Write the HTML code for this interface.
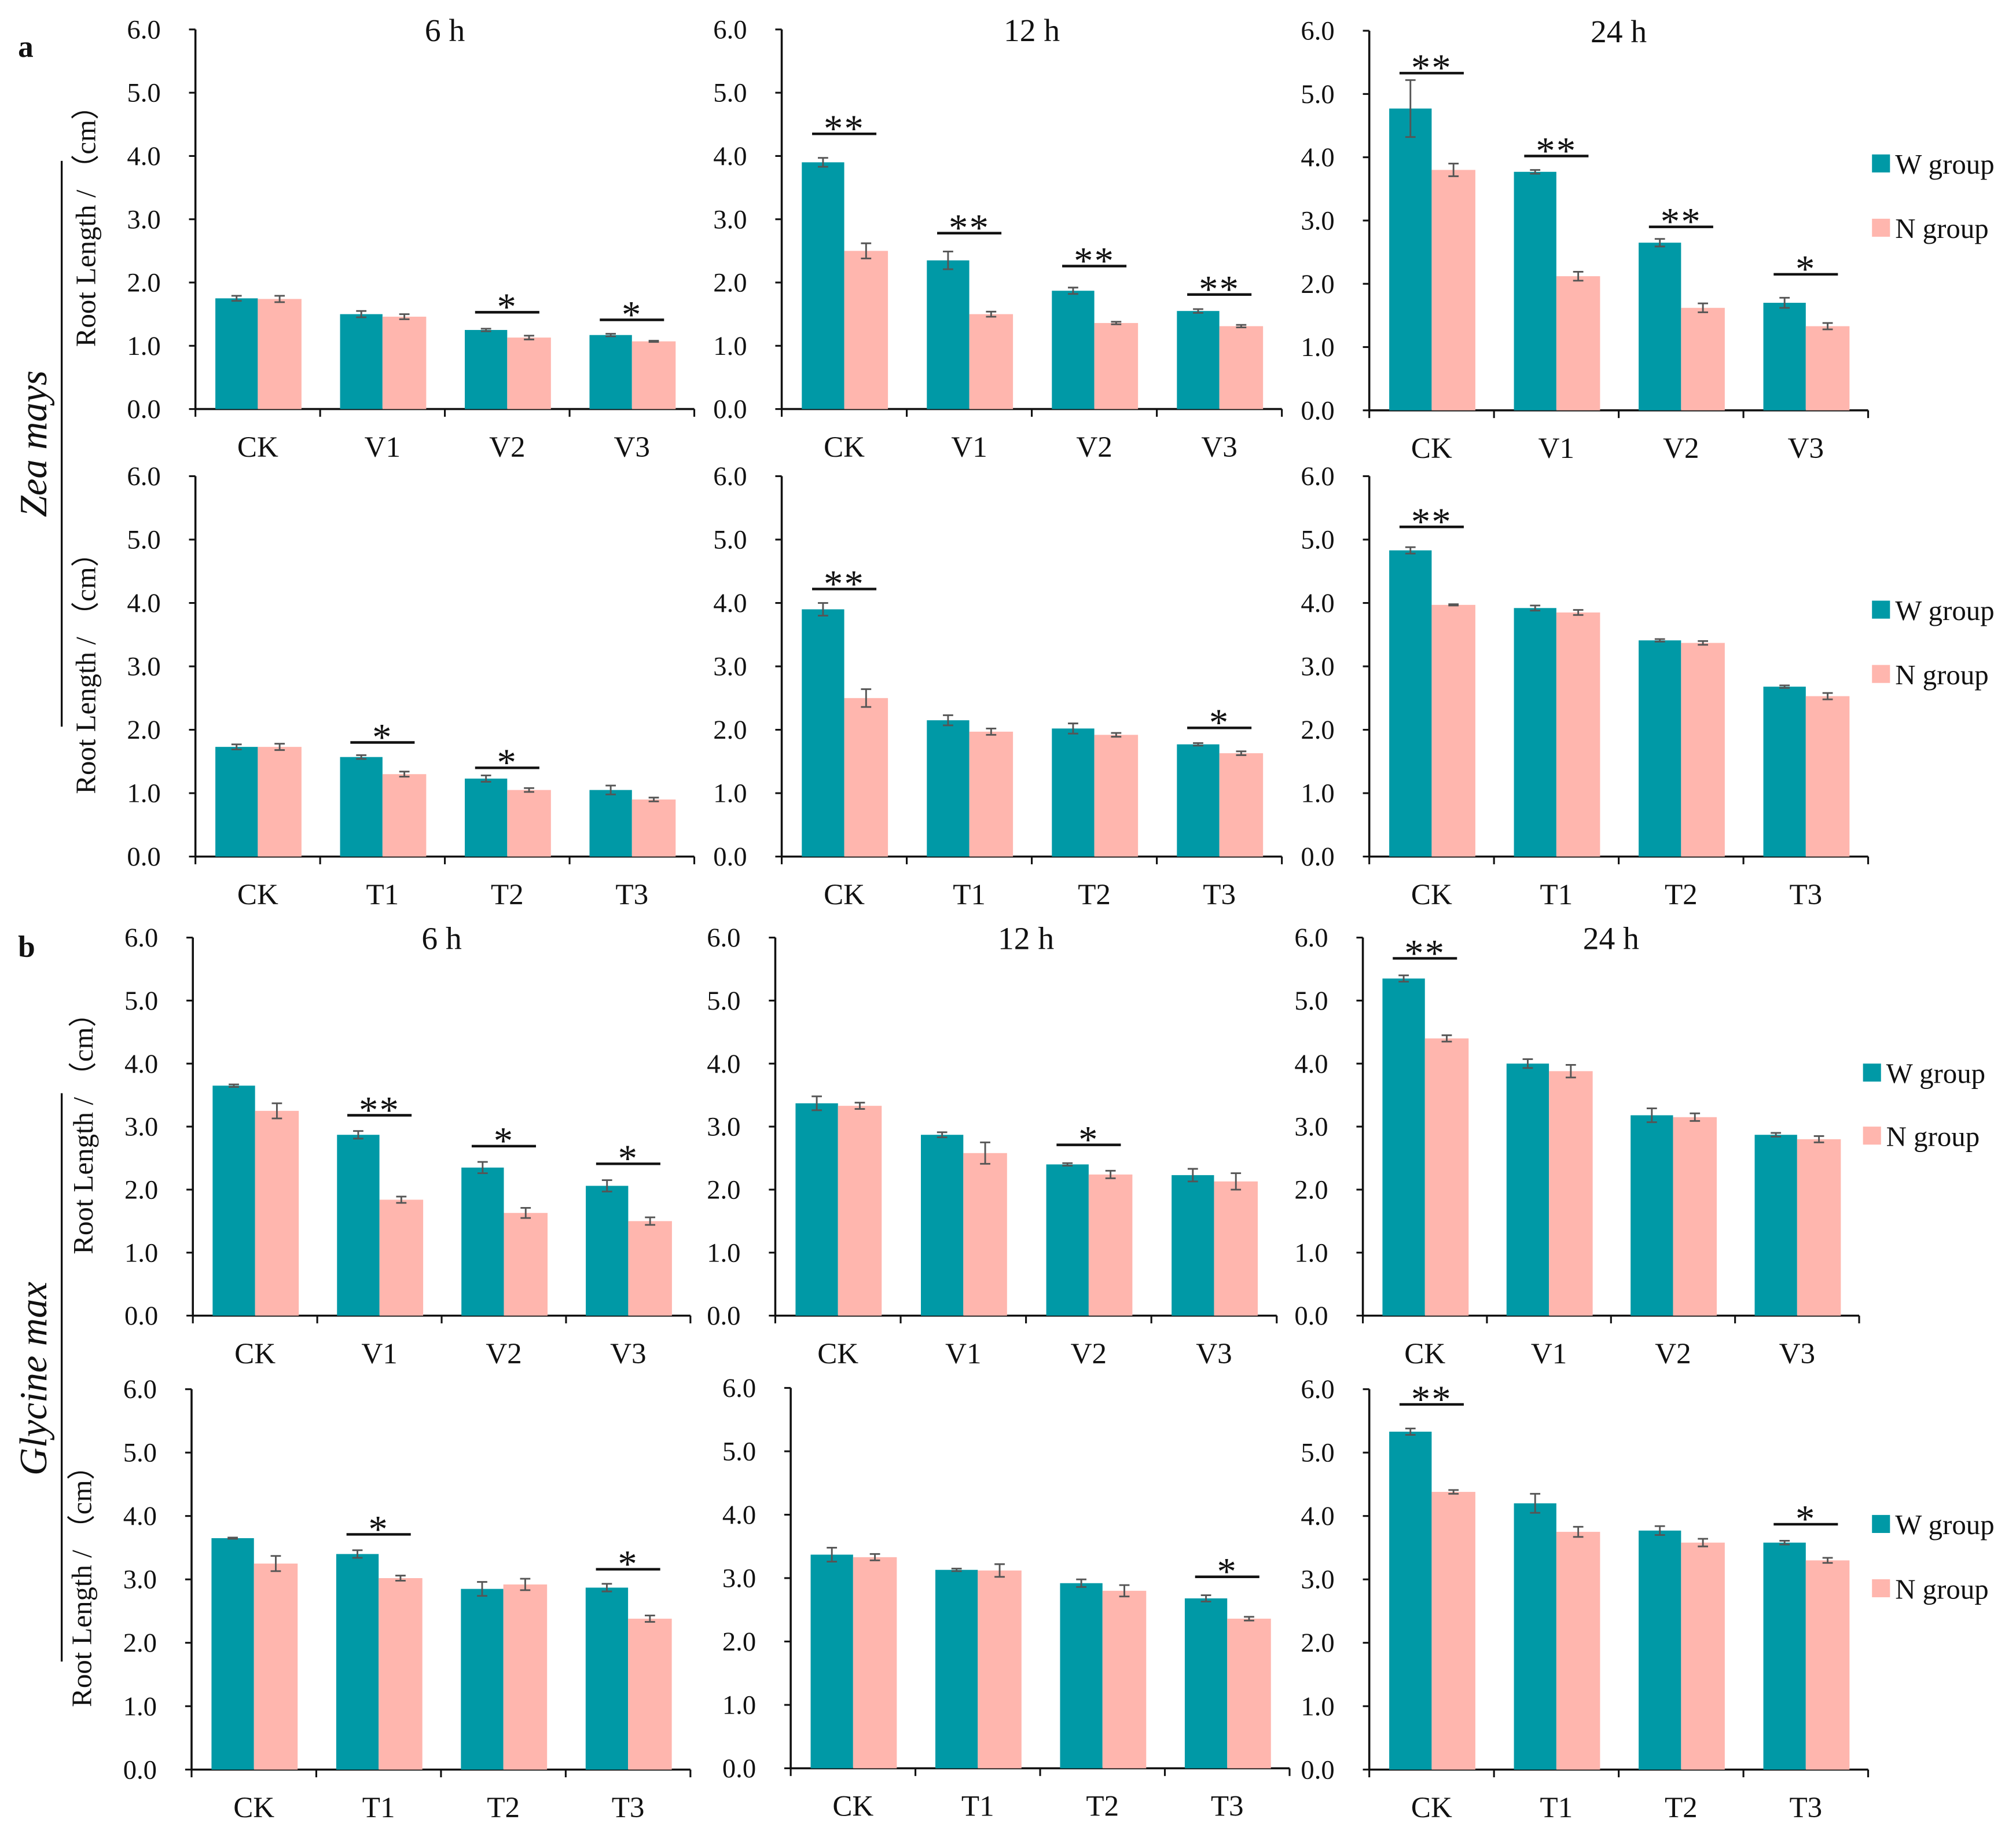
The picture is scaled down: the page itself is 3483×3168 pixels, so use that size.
<!DOCTYPE html>
<html><head><meta charset="utf-8"><style>
html,body{margin:0;padding:0;background:#fff}
svg{display:block}
svg text{font-family:"Liberation Serif","Times New Roman",serif;fill:#111}
</style></head><body>
<svg id="fig" width="3483" height="3168" viewBox="0 0 1568 1426" xmlns="http://www.w3.org/2000/svg" font-family="Liberation Serif, serif">
<text x="14" y="44" font-size="24" font-weight="bold" font-family="Liberation Serif, serif">a</text>
<text x="14" y="744" font-size="24" font-weight="bold" font-family="Liberation Serif, serif">b</text>
<line x1="48" y1="125" x2="48" y2="565" stroke="#111" stroke-width="1.5"/>
<text transform="translate(36,345) rotate(-90)" text-anchor="middle" font-size="30" font-style="italic" font-family="Liberation Serif, serif">Zea mays</text>
<line x1="48" y1="850" x2="48" y2="1292" stroke="#111" stroke-width="1.5"/>
<text transform="translate(36,1072) rotate(-90)" text-anchor="middle" font-size="30" font-style="italic" font-family="Liberation Serif, serif">Glycine max</text>
<g id="plots"></g>
</svg>
<script>
const catsV = ["CK","V1","V2","V3"];
const catsT = ["CK","T1","T2","T3"];
const yTicks = ["0.0","1.0","2.0","3.0","4.0","5.0","6.0"];
// Zea mays V
const zV6W=[1.75,1.50,1.25,1.17], zV6N=[1.74,1.46,1.13,1.07], zV6eW=[.04,.05,.02,.02], zV6eN=[.05,.04,.03,.01], zV6S=["","","*","*"], zV6L=[0,0,1.53,1.41];
const zV12W=[3.90,2.35,1.87,1.55], zV12N=[2.50,1.50,1.36,1.31], zV12eW=[.07,.14,.05,.03], zV12eN=[.12,.04,.02,.02], zV12S=["**","**","**","**"], zV12L=[4.35,2.78,2.26,1.81];
const zV24W=[4.77,3.77,2.65,1.70], zV24N=[3.80,2.12,1.62,1.33], zV24eW=[.45,.03,.06,.08], zV24eN=[.1,.07,.07,.05], zV24S=["**","**","**","*"], zV24L=[5.33,4.02,2.90,2.15];
// Zea mays T
const zT6W=[1.73,1.57,1.23,1.05], zT6N=[1.73,1.30,1.05,0.90], zT6eW=[.04,.03,.05,.07], zT6eN=[.05,.04,.03,.03], zT6S=["","*","*",""], zT6L=[0,1.80,1.40,0];
const zT12W=[3.90,2.15,2.02,1.77], zT12N=[2.50,1.97,1.92,1.63], zT12eW=[.1,.08,.08,.02], zT12eN=[.14,.05,.03,.03], zT12S=["**","","","*"], zT12L=[4.22,0,0,2.03];
const zT24W=[4.83,3.92,3.41,2.68], zT24N=[3.97,3.85,3.37,2.53], zT24eW=[.05,.04,.02,.02], zT24eN=[.01,.04,.03,.05], zT24S=["**","","",""], zT24L=[5.2,0,0,0];
// Glycine max V
const gV6W=[3.65,2.87,2.35,2.06], gV6N=[3.25,1.84,1.63,1.50], gV6eW=[.02,.06,.09,.09], gV6eN=[.12,.05,.08,.06], gV6S=["","**","*","*"], gV6L=[0,3.18,2.69,2.41];
const gV12W=[3.37,2.87,2.40,2.23], gV12N=[3.33,2.58,2.24,2.13], gV12eW=[.11,.04,.02,.1], gV12eN=[.05,.17,.06,.13], gV12S=["","","*",""], gV12L=[0,0,2.71,0];
const gV24W=[5.35,4.00,3.18,2.87], gV24N=[4.40,3.88,3.15,2.80], gV24eW=[.05,.07,.11,.03], gV24eN=[.05,.1,.06,.05], gV24S=["**","","",""], gV24L=[5.67,0,0,0];
// Glycine max T
const gT6W=[3.65,3.40,2.85,2.87], gT6N=[3.25,3.02,2.92,2.38], gT6eW=[.01,.06,.11,.06], gT6eN=[.12,.04,.09,.05], gT6S=["","*","","*"], gT6L=[0,3.71,0,3.16];
const gT12W=[3.37,3.13,2.92,2.68], gT12N=[3.33,3.12,2.80,2.36], gT12eW=[.11,.02,.06,.05], gT12eN=[.05,.1,.09,.03], gT12S=["","","","*"], gT12L=[0,0,0,3.02];
const gT24W=[5.33,4.20,3.77,3.58], gT24N=[4.38,3.75,3.58,3.30], gT24eW=[.05,.15,.07,.03], gT24eN=[.03,.08,.06,.04], gT24S=["**","","","*"], gT24L=[5.76,0,0,3.87];

const panels=[
 {id:"zea-v-6h",L:152,R:540,y0:318,u:49.2,cats:catsV,W:zV6W,N:zV6N,eW:zV6eW,eN:zV6eN,S:zV6S,SL:zV6L,title:"6 h",yt:true},
 {id:"zea-v-12h",L:608,R:997,y0:318,u:49.2,cats:catsV,W:zV12W,N:zV12N,eW:zV12eW,eN:zV12eN,S:zV12S,SL:zV12L,title:"12 h"},
 {id:"zea-v-24h",L:1065,R:1453,y0:319,u:49.2,cats:catsV,W:zV24W,N:zV24N,eW:zV24eW,eN:zV24eN,S:zV24S,SL:zV24L,title:"24 h",leg:[128,178]},
 {id:"zea-t-6h",L:152,R:540,y0:666,u:49.3,cats:catsT,W:zT6W,N:zT6N,eW:zT6eW,eN:zT6eN,S:zT6S,SL:zT6L,yt:true},
 {id:"zea-t-12h",L:608,R:997,y0:666,u:49.3,cats:catsT,W:zT12W,N:zT12N,eW:zT12eW,eN:zT12eN,S:zT12S,SL:zT12L},
 {id:"zea-t-24h",L:1065,R:1453,y0:666,u:49.3,cats:catsT,W:zT24W,N:zT24N,eW:zT24eW,eN:zT24eN,S:zT24S,SL:zT24L,leg:[475,525]},
 {id:"gly-v-6h",L:150,R:537,y0:1023,u:49,cats:catsV,W:gV6W,N:gV6N,eW:gV6eW,eN:gV6eN,S:gV6S,SL:gV6L,title:"6 h",yt:true},
 {id:"gly-v-12h",L:603,R:993,y0:1023,u:49,cats:catsV,W:gV12W,N:gV12N,eW:gV12eW,eN:gV12eN,S:gV12S,SL:gV12L,title:"12 h"},
 {id:"gly-v-24h",L:1060,R:1446,y0:1023,u:49,cats:catsV,W:gV24W,N:gV24N,eW:gV24eW,eN:gV24eN,S:gV24S,SL:gV24L,title:"24 h",leg:[835,884]},
 {id:"gly-t-6h",L:149,R:537,y0:1376,u:49.3,cats:catsT,W:gT6W,N:gT6N,eW:gT6eW,eN:gT6eN,S:gT6S,SL:gT6L,yt:true},
 {id:"gly-t-12h",L:615,R:1003,y0:1375,u:49.3,cats:catsT,W:gT12W,N:gT12N,eW:gT12eW,eN:gT12eN,S:gT12S,SL:gT12L},
 {id:"gly-t-24h",L:1065,R:1453,y0:1376,u:49.3,cats:catsT,W:gT24W,N:gT24N,eW:gT24eW,eN:gT24eN,S:gT24S,SL:gT24L,leg:[1186,1236]}
];
const NS="http://www.w3.org/2000/svg";
const FF="Liberation Serif, serif";
const root=document.getElementById("plots");
function mk(tag,attrs,parent){const e=document.createElementNS(NS,tag);for(const k in attrs)e.setAttribute(k,attrs[k]);if(tag==="text")e.setAttribute("font-family",FF);parent.appendChild(e);return e;}
const TEAL="#0099a6", PINK="#ffb6ae";
panels.forEach(p=>{
 const g=mk("g",{},root);
 
 
 const y=v=>p.y0-v*p.u;
 const n=p.cats.length, bw=(p.R-p.L)/n;
 const cx=i=>p.L+bw*(i+0.5);
 const ax=mk("path",{d:`M${p.L},${y(6)} L${p.L},${p.y0} L${p.R},${p.y0}`,stroke:"#111","stroke-width":1.6,fill:"none"},g);
 
 
 yTicks.forEach((t,k)=>{
  mk("line",{x1:p.L-5,x2:p.L,y1:y(k),y2:y(k),stroke:"#111","stroke-width":1.4},g);
  const tx=mk("text",{x:p.L-27,y:y(k)+7,"font-size":21,"text-anchor":"end"},g);
  tx.textContent=t;
  
  
 });
 for(let i=0;i<=n;i++) mk("line",{x1:p.L+bw*i,x2:p.L+bw*i,y1:p.y0,y2:p.y0+6,stroke:"#111","stroke-width":1.4},g);
 p.cats.forEach((c,i)=>{
  const tx=mk("text",{x:cx(i),y:p.y0+37,"font-size":23,"text-anchor":"middle"},g);
  tx.textContent=c;
  
  
  const b1=mk("rect",{x:cx(i)-33,y:y(p.W[i]),width:33,height:p.W[i]*p.u,fill:TEAL},g);
  
  
  const b2=mk("rect",{x:cx(i),y:y(p.N[i]),width:34,height:p.N[i]*p.u,fill:PINK},g);
  
  
  [[cx(i)-16.5,p.W[i],p.eW[i]],[cx(i)+17,p.N[i],p.eN[i]]].forEach(([x,v,e])=>{
   const eb=mk("path",{d:`M${x},${y(v+e)} V${y(v-e)} M${x-4},${y(v+e)} H${x+4} M${x-4},${y(v-e)} H${x+4}`,stroke:"#555","stroke-width":1.3,fill:"none"},g);
   
   
  });
  if(p.S[i]){
   const ly=y(p.SL[i]);
   const sl=mk("line",{x1:cx(i)-25,x2:cx(i)+25,y1:ly,y2:ly,stroke:"#111","stroke-width":2},g);
   
   
   const st=mk("text",{x:cx(i),y:ly+6,"font-size":30,"text-anchor":"middle","letter-spacing":1},g);
   st.textContent=p.S[i];
   
   
  }
 });
 if(p.title){
  const tt=mk("text",{x:(p.L+p.R)/2,y:y(6)+9,"font-size":25,"text-anchor":"middle"},g);
  tt.textContent=p.title;
  
  
 }
 if(p.yt){
  const yt=mk("text",{transform:`translate(${p.L-78},${y(3)}) rotate(-90)`,"font-size":22,"text-anchor":"middle"},g);
  yt.textContent="Root  Length / （cm）";
  yt.setAttribute('font-family','Liberation Serif, Noto Serif CJK SC, serif');
  
  
 }
 if(p.leg){
  [["W group",TEAL],["N group",PINK]].forEach(([lab,col],k)=>{
   const ly=p.leg[k];
   const sq=mk("rect",{x:p.R+3,y:ly-8,width:14,height:14,fill:col},g);
   
   
   const lt=mk("text",{x:p.R+21,y:ly+7,"font-size":22},g);
   lt.textContent=lab;
   
   
  });
 }
});
</script>
</body></html>
